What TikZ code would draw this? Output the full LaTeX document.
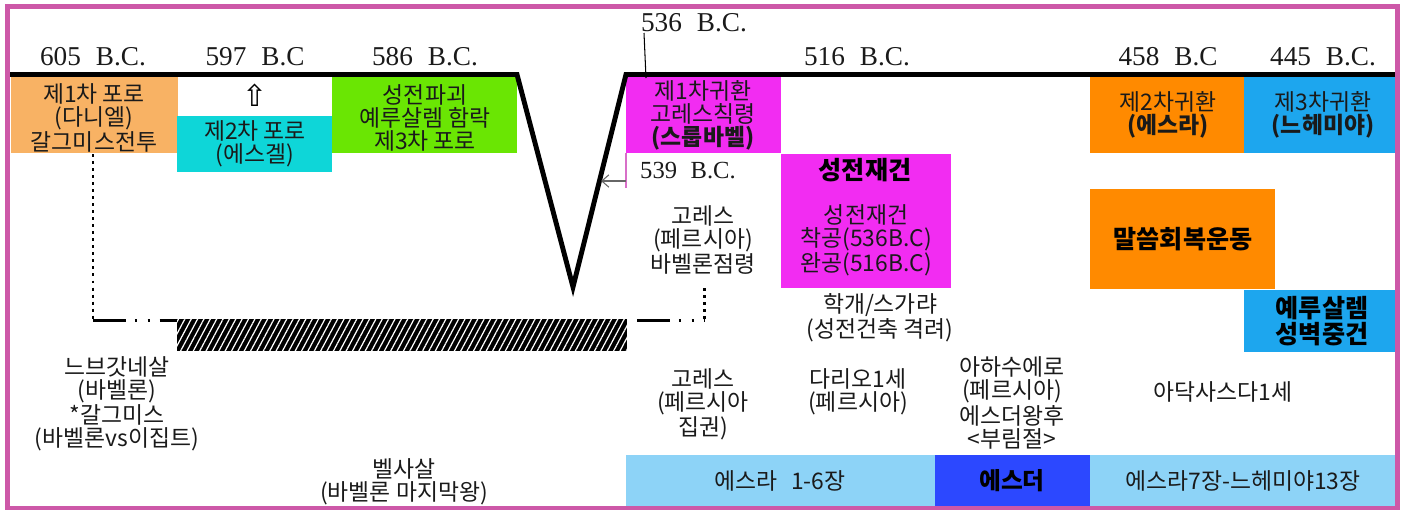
\documentclass[tikz,border=0pt]{standalone}
\usepackage{fontspec}
\setmainfont{Noto Sans CJK KR}
\newfontfamily\dtfont{Liberation Serif}
\newfontfamily\symfont{DejaVu Sans}
\usetikzlibrary{arrows.meta,patterns.meta}
\definecolor{orA}{HTML}{F8B264}
\definecolor{cyanB}{HTML}{0ED6D8}
\definecolor{greenC}{HTML}{6AE603}
\definecolor{magD}{HTML}{F22CF2}
\definecolor{orE}{HTML}{FF8A00}
\definecolor{blueF}{HTML}{1DA6EE}
\definecolor{ltblue}{HTML}{8DD3F7}
\definecolor{dkblue}{HTML}{2C48FF}
\definecolor{framec}{HTML}{CD58A8}
\definecolor{pinkl}{HTML}{D86FC8}
\definecolor{txt}{HTML}{1A1A1A}
\tikzset{
  lbl/.style={font=\fontsize{13}{13.1}\selectfont, align=center, inner sep=0pt, text=txt},
  blbl/.style={font=\fontsize{14.3}{14.8}\selectfont\bfseries, align=center, inner sep=0pt, text=black},
  datelbl/.style={font=\dtfont\fontsize{15.5}{15.5}\selectfont, inner sep=0pt, text=txt},
  tline/.style={line width=2.8pt, line join=miter},
  dotv/.style={line width=1.7pt, dash pattern=on 1.7pt off 2.3pt},
  dashdd/.style={line width=1.7pt, dash pattern=on 18.7pt off 5.1pt on 1.1pt off 6.2pt on 1.1pt off 5.7pt},
}
\begin{document}
\begin{tikzpicture}[x=0.02cm,y=-0.02cm]
\useasboundingbox (0,0) rectangle (1405,511);
% boxes
\fill[orA] (11,77) rectangle (178,153);
\fill[cyanB] (177,116) rectangle (332,172);
\fill[greenC] (332,77) rectangle (517,153);
\fill[magD] (626,77) rectangle (781,153);
\fill[magD] (781,154) rectangle (951,288);
\fill[orE] (1090,77) rectangle (1244,153);
\fill[blueF] (1244,77) rectangle (1396,153);
\fill[orE] (1090,189) rectangle (1275,289);
\fill[blueF] (1244,290) rectangle (1396,352);
\fill[ltblue] (626,455) rectangle (935,508);
\fill[dkblue] (935,455) rectangle (1090,508);
\fill[ltblue] (1090,455) rectangle (1396,508);
% hatched bar
\fill[black] (177,319) rectangle (627,351);
\fill[pattern={Lines[angle=62,distance=3.2pt,line width=0.7pt]}, pattern color=white] (177,319) rectangle (627,351);
% timeline
\coordinate (t0) at (10,74.5);
\coordinate (va) at (517,74.5);
\coordinate (vb) at (573,287);
\coordinate (vc) at (626,74.5);
\coordinate (t1) at (1396,74.5);
\draw[tline] (t0) -- (va) -- (vb) -- (vc) -- (t1);
% dotted guides
\coordinate (d1a) at (93,154);
\coordinate (d1b) at (93,320);
\coordinate (d1c) at (177,320);
\coordinate (d2a) at (637,320);
\coordinate (d2b) at (704,320);
\coordinate (d2c) at (704,288);
\draw[dotv] (d1a) -- (d1b);
\draw[dashdd] (d1b) -- (d1c);
\draw[dashdd] (d2a) -- (d2b);
\draw[dotv] (d2c) -- (d2b);
% 539 marker
\coordinate (p1) at (626,153);
\coordinate (p2) at (626,188);
\coordinate (a1) at (626,181);
\coordinate (a2) at (601,181);
\draw[pinkl, line width=1.1pt] (p1) -- (p2);
\draw[gray!80!black, line width=0.6pt, -{Straight Barb[length=4pt,width=7pt]}] (a1) -- (a2);
% 536 leader
\coordinate (l1) at (644,33);
\coordinate (l2) at (646,78);
\draw[line width=0.6pt] (l1) -- (l2);
% dates
\node[datelbl] (n605) at (93,57) {605\hspace{0.55em}B.C.};
\node[datelbl] (n597) at (255,57) {597\hspace{0.55em}B.C};
\node[datelbl] (n586) at (425,57) {586\hspace{0.55em}B.C.};
\node[datelbl] (n536) at (694,23) {536\hspace{0.55em}B.C.};
\node[datelbl] (n516) at (857,57) {516\hspace{0.55em}B.C.};
\node[datelbl] (n458) at (1168,57) {458\hspace{0.55em}B.C};
\node[datelbl] (n445) at (1323,57) {445\hspace{0.55em}B.C.};
\node[datelbl, font=\dtfont\fontsize{14}{14}\selectfont] (n539) at (688,171) {539\hspace{0.55em}B.C.};
% box texts
\node[lbl] (b1) at (94,118) {제1차 포로\\(다니엘)\\갈그미스전투};
\node[inner sep=0pt, font=\symfont\fontsize{17}{17}\selectfont] (up) at (255,95) {⇧};
\node[lbl] (b2) at (255,144) {제2차 포로\\(에스겔)};
\node[lbl] (b3) at (425,118) {성전파괴\\예루살렘 함락\\제3차 포로};
\node[lbl] (b4) at (703,115) {제1차귀환\\고레스칙령\\{\bfseries (스룹바벨)}};
\node[blbl] (b5t) at (865,170) {성전재건};
\node[lbl] (b5) at (866,240) {성전재건\\착공(536B.C)\\완공(516B.C)};
\node[lbl] (k1) at (703,240) {고레스\\(페르시아)\\바벨론점령};
\node[lbl] (hg) at (880,318) {학개/스가랴\\(성전건축 격려)};
\node[lbl] (b6) at (1168,115) {제2차귀환\\{\bfseries (에스라)}};
\node[lbl] (b7) at (1323,115) {제3차귀환\\{\bfseries (느헤미야)}};
\node[blbl] (b8) at (1183,239) {말씀회복운동};
\node[blbl] (b9) at (1322,321) {예루살렘\\성벽중건};
% lower texts
\node[lbl] (neb) at (117,404) {느브갓네살\\(바벨론)\\*갈그미스\\(바벨론vs이집트)};
\node[lbl] (bel) at (404,482) {벨사살\\(바벨론 마지막왕)};
\node[lbl] (k2) at (703,404) {고레스\\(페르시아\\집권)};
\node[lbl] (dar) at (858,392) {다리오1세\\(페르시아)};
\node[lbl] (aha) at (1012,403) {아하수에로\\(페르시아)\\에스더왕후\\<부림절>};
\node[lbl] (art) at (1223,392) {아닥사스다1세};
% bottom bars
\node[lbl] (e1) at (780,481) {에스라\hspace{0.6em}1-6장};
\node[blbl, font=\fontsize{13.5}{14}\selectfont\bfseries] (e2) at (1012,481) {에스더};
\node[lbl] (e3) at (1243,481) {에스라7장-느헤미야13장};
% frame
\draw[framec, line width=2.8pt] (7.5,6.5) rectangle (1397.5,508);
\end{tikzpicture}
\end{document}
